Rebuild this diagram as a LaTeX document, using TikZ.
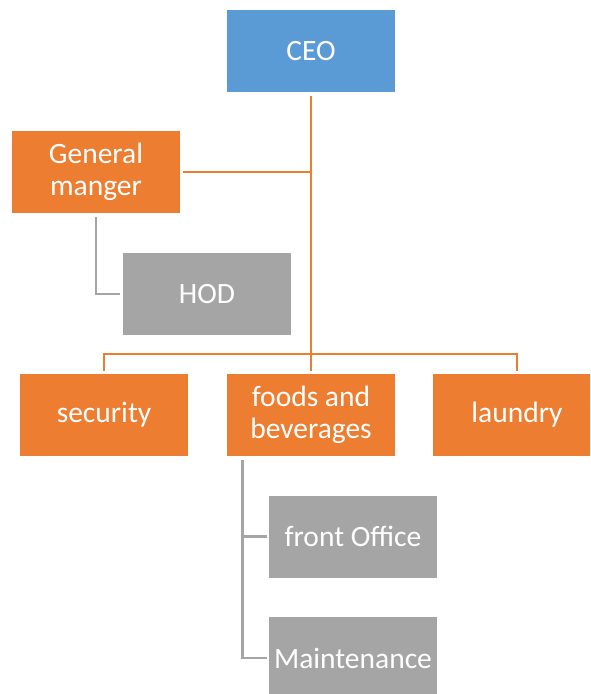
\documentclass[tikz,border=0pt]{standalone}
\usepackage{fontspec}
\setmainfont{Carlito}
\definecolor{ceoblue}{HTML}{5B9BD5}
\definecolor{deptorange}{HTML}{ED7D31}
\definecolor{staffgray}{HTML}{A5A5A5}
\begin{document}
\begin{tikzpicture}[x=1pt,y=-1pt,
  unit/.style={rectangle, minimum width=168pt, minimum height=82pt, inner sep=0pt,
    text=white, align=center, font=\fontsize{29.5}{32}\selectfont},
  topbox/.style={unit, fill=ceoblue},
  deptbox/.style={unit, fill=deptorange},
  staffbox/.style={unit, fill=staffgray},
  orgline/.style={draw=deptorange, line width=2.9pt},
  subline/.style={draw=staffgray, line width=2.9pt}]
\clip (0,0) rectangle (590,694);
\fill[white] (0,0) rectangle (590,694);

\node[topbox]   (ceo)  at (311,51)    {CEO};
\node[deptbox]  (gm)   at (96,172)    {General\\manger};
\node[staffbox] (hod)  at (207,294)   {HOD};
\node[deptbox]  (sec)  at (104,415)   {security};
\node[deptbox]  (fab)  at (311,415)   {foods and\\beverages};
\node[deptbox]  (lau)  at (517,415)   {laundry};
\node[staffbox] (fo)   at (353,536.5) {front Office};
\node[staffbox] (mnt)  at (353,658)   {Maintenance};

\coordinate (bus) at (311,354);

% trunk from the CEO down to the department row
\draw[orgline] ([yshift=-4pt]ceo.south) -- ([yshift=3pt]fab.north);
% department bus
\draw[orgline] ([yshift=3pt]sec.north) |- (bus) -| ([yshift=3pt]lau.north);
% general manager branch
\draw[orgline] ([xshift=3pt]gm.east) -- (gm.east -| ceo.south);
% staff links
\draw[subline] ([yshift=-4pt]gm.south) |- ([xshift=-3pt]hod.west);
\draw[subline] ([xshift=16pt,yshift=-4pt]fab.south west) |- ([xshift=-2pt]fo.west);
\draw[subline] ([xshift=16pt,yshift=-4pt]fab.south west) |- ([xshift=-2pt]mnt.west);
\end{tikzpicture}
\end{document}
